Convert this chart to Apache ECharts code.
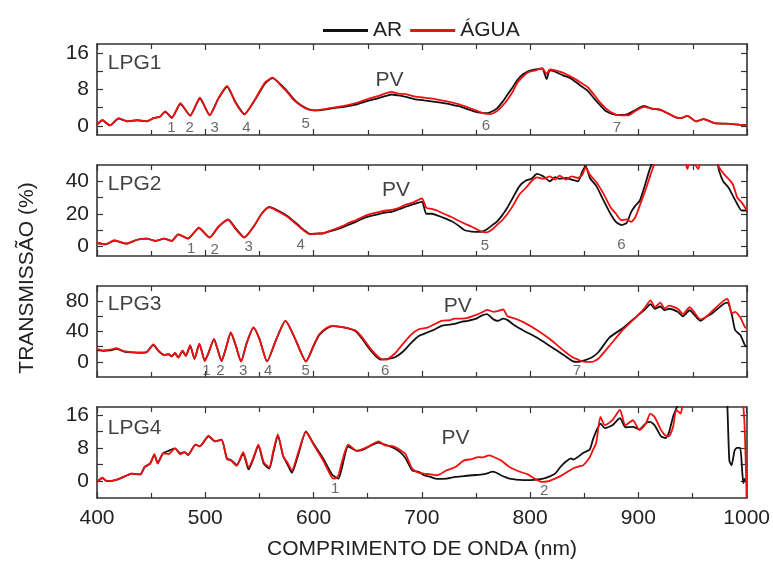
<!DOCTYPE html>
<html>
<head>
<meta charset="utf-8">
<script src="https://cdn.jsdelivr.net/npm/echarts@6/dist/echarts.min.js"></script>
<style>html,body{margin:0;padding:0;background:#fff}#c{width:773px;height:566px}</style>
</head>
<body>
<div id="c"></div>
<script>
// ---------------- DATA ----------------
const seriesNames = ['AR', 'ÁGUA'];
const panelNames = ['LPG1', 'LPG2', 'LPG3', 'LPG4'];
const xTickLabels = [400, 500, 600, 700, 800, 900, 1000];

// LPG1
const nm1 = [400,405,412,420,428,437,446,452,458,463,469,477,486,495,504,512,520,528,536,545,555,562,570,576,582,588,595,601,610,618,628,639,650,660,667,672,678,685,693,702,712,723,730,735,742,748,753,758,763,769,775,779,784,788,793,798,805,811,815,818,823,830,836,840,846,853,859,865,870,876,883,890,897,905,912,920,929,935,939,945,953,960,970,980,987,995,1000];
const lpg1Agua = [0.3,1.3,0.1,1.7,1.0,1.3,1.0,1.7,2.0,3.2,1.7,5.0,2.2,6.2,2.3,6.0,8.8,5.0,2.5,5.5,9.5,10.6,8.8,7.3,5.6,4.5,3.6,3.4,3.7,4.0,4.4,5.0,5.9,6.6,7.2,7.5,7.1,7.0,6.5,6.2,5.9,5.4,5.0,4.7,4.1,3.6,3.1,2.7,2.6,3.2,4.6,5.8,7.6,9.5,10.8,11.8,12.2,12.7,11.4,12.4,12.2,11.7,11.0,10.5,9.6,8.5,6.8,5.0,3.8,2.8,2.3,2.3,3.3,4.2,3.8,3.6,2.5,1.8,1.7,2.2,1.0,1.5,0.6,0.5,0.4,0.2,0.1];
const lpg1Ar = [0.3,1.2,0.1,1.6,1.0,1.2,1.0,1.7,2.0,3.1,1.8,4.8,2.3,6.0,2.4,6.0,8.6,5.2,2.6,5.4,9.3,10.5,9.0,7.5,5.8,4.6,3.7,3.4,3.6,3.9,4.2,4.7,5.5,6.1,6.6,6.9,6.7,6.4,5.9,5.6,5.3,4.9,4.5,4.3,3.7,3.2,2.9,2.8,3.0,3.8,5.5,6.9,8.6,10.1,11.3,12.0,12.4,12.6,10.3,12.2,11.9,11.1,10.6,10.0,8.9,7.7,6.0,4.4,3.2,2.6,2.4,2.6,3.5,4.4,3.8,3.5,2.5,1.8,1.7,2.2,1.0,1.5,0.6,0.5,0.4,0.2,0.1];

// LPG2
const nm2 = [400,408,416,427,437,446,454,462,469,475,484,494,504,512,521,528,536,545,552,559,567,576,585,592,597,603,609,617,626,633,639,645,651,660,667,672,680,685,690,697,700,704,709,714,720,727,733,739,746,752,756,760,765,769,774,779,784,790,796,801,806,812,818,823,827,833,838,844,848,851,855,861,867,874,879,884,889,893,897,901,906,910,913,916,925,940,945,948,955,958,965,972,974,978,983,987,991,995,1000];
const lpg2Agua = [2.0,1.2,3.7,1.6,4.0,4.7,3.3,4.7,3.3,7.3,4.7,11.4,5.3,12.0,16.3,10.5,5.3,12.5,20.0,24.0,21.5,18.0,13.0,9.0,7.3,7.8,8.0,10.0,12.2,14.5,16.0,18.0,19.6,21.0,22.0,22.4,24.0,25.7,26.5,28.6,29.5,23.7,23.0,22.0,20.0,18.0,16.0,14.0,12.0,10.0,8.8,8.5,10.5,13.0,16.0,20.0,25.0,32.0,36.0,40.0,42.4,41.5,43.0,41.0,43.5,41.0,43.0,42.0,44.0,48.6,44.0,39.4,33.0,24.0,20.0,16.0,16.5,15.0,18.0,25.0,34.0,42.0,48.0,53.0,58.0,58.0,47.5,55.0,47.5,55.0,58.0,55.0,49.0,45.0,41.4,38.0,30.0,27.0,22.0];
const lpg2Ar = [2.0,1.2,3.5,1.6,4.0,4.7,3.3,4.7,3.3,7.3,4.7,11.2,5.5,11.8,16.5,11.0,5.5,12.5,20.0,24.2,22.0,18.5,13.5,9.5,7.5,7.8,8.0,9.6,11.5,13.5,15.0,17.0,18.4,19.8,20.8,21.2,23.0,24.3,25.5,26.8,27.5,20.0,20.0,19.0,17.5,15.5,13.0,10.0,9.0,8.8,9.2,10.5,13.0,15.0,19.0,24.0,30.0,37.0,40.4,41.5,44.5,43.0,40.0,42.5,41.5,42.0,41.0,40.0,46.0,49.5,42.0,37.0,29.0,20.0,15.0,13.0,14.5,21.0,25.0,28.0,38.0,47.0,52.0,56.0,60.0,60.0,60.0,60.0,60.0,60.0,60.0,54.0,47.0,40.0,36.0,31.0,26.0,22.0,22.0];

// LPG3
const nm3 = [400,406,412,418,425,433,440,446,452,457,462,466,469,472,475,479,482,486,490,494.5,499.5,503,508,511,515,519,523.5,528,533,538,544.5,550,557,565,574,583,593,600,605,612,618,625,632,639,645,651,657,662,667,675,682,690,697,705,712,718,726,730,737,742,750,755,760,766,770,775,779,786,794,806,818,831,839,843,850,857,863,873,886,899,905,911,915,920,924,928,936,941,947,957,963,968,978,982,986,989,994,998,1000];
const lpg3Agua = [16.7,15,16,18,14,12.5,12,13,23,14,9,10,7,12,5.5,15,8,22,4,24,1,12,30,18,1,18,39,22,0.5,24,45.5,30,0.5,28,54,30,0.5,22,36,45,47.5,46,44,41,32,20,10,4,3,11,23,36,43,45,50,54,55,57,57,58,62,65,68.6,66,67,69,60,57,52,42,30,14.5,6,3.5,0,0,4.4,21,43,61,70,81,72,78,70,74,70,63,72,56,60,67,80,83,64,66,58,46,44];
const lpg3Ar = [15.5,14.5,15,17,13.5,12.5,12,13,22,14,9,10,7.5,11,6,14,8,21,4,23.5,1.5,12,30,18,1,18,38,22,0.5,24,45,30,0.5,28,54,30,0.5,21,35,44,47,46,44,40,30,18,8,3,3.5,6,13,25,34,38.7,43,47.5,49,50,53,54,57,61,63,56,54,57,55,47.5,41,32,21,8.8,1,0,2,6,13,32,45,61,68,76,70,73,68,70,66,60,68,54,60,64,76,78,62,42,35,22,20];

// LPG4
const nm4 = [400,405,409,418,428,432,440,444,449,453,456,461,466,472,477,481,484,491,495,503,509,515,520,524,529,535,540,545,549,554,559,563,567,572,576,580,586,593,600,609,617,620,623,626,632,640,645,651,660,666,674,680,685,691,697,702,708,714,723,731,739,746,752,756,762,765,769,773,781,790,798,804,811,817,823,828,832,838,840,846,849,855,858,861,865,869,876,883,888,895,901,907,911,915,921,925,928,932,935,939,942,950,960,970,980,982,984,986,989,991,994,996,997,998,999,1000];
const lpg4Agua = [-0.2,0.8,0.0,0.3,1.4,1.8,1.6,3.4,4.2,6.5,4.2,6.7,6.5,7.9,6.5,7.0,6.3,8.8,8.4,11.0,9.6,10.0,5.3,4.9,3.7,7.0,3.3,6.0,8.8,4.6,3.3,7.5,11.3,6.0,4.4,2.6,7.0,11.9,8.8,4.9,0.8,0.6,1.4,4.4,8.8,7.3,7.7,8.4,9.6,8.6,8.4,7.5,6.5,3.0,2.0,1.8,1.6,1.4,2.6,3.4,5.0,5.3,5.8,5.7,6.2,6.0,5.5,5.0,3.4,2.3,1.6,0.6,-0.2,0.0,0.6,1.2,1.8,2.8,3.1,3.6,3.8,5.7,7.5,9.2,15.5,13.5,14.7,17.2,13.5,14.7,12.3,13.9,16.3,15.5,12.3,11.0,10.8,13.0,17.2,16.3,20,22,22,22,22,22,22,22,22,22,22,22,18,14,6,-4.1];
const lpg4Ar = [-0.2,0.7,0.0,0.3,1.4,1.8,1.6,3.4,4.2,6.3,4.4,6.7,7.3,7.9,6.7,7.0,6.3,8.8,8.4,10.8,9.6,10.0,5.5,5.0,3.9,6.6,2.8,5.8,8.6,4.2,3.0,7.0,11.0,6.0,4.0,2.0,6.5,12.0,9.0,5.4,1.6,1.0,0.6,3.0,8.4,7.3,7.5,8.3,9.3,8.8,8.0,7.0,5.5,2.6,2.2,1.4,1.0,0.5,0.6,1.0,1.2,1.4,1.5,1.6,2.0,2.3,2.0,1.4,0.6,0.3,0.2,0.3,0.5,1.0,1.8,3.4,4.5,5.5,5.2,6.2,6.8,7.6,10.0,12.0,13.9,12.8,13.5,15.2,13.0,13.1,12.5,14.0,14.3,13.5,10.8,10.4,11.5,15.5,17.5,20,22,22,22,22,22,19,5.0,3.8,7.5,8.0,8.0,2.0,-0.5,0.5,0.0,0.0];

// axis ranges and ticks per panel
const yMin = [-2, -6, -20, -4.1];
const yMax = [18, 50, 100, 17.9];
const yLabels1 = [0, 8, 16], yTicks1 = [0, 4, 8, 12, 16];
const yLabels2 = [0, 20, 40], yTicks2 = [0, 10, 20, 30, 40];
const yLabels3 = [0, 40, 80], yTicks3 = [0, 20, 40, 60, 80];
const yLabels4 = [0, 8, 16], yTicks4 = [0, 4, 8, 12, 16];

// annotations [nm, value, text]
const marks1 = [[468.8,-0.4,'1'],[485.6,-0.4,'2'],[508.7,-0.4,'3'],[538,-0.4,'4'],[592.6,0.4,'5'],[759,0,'6'],[880,-0.4,'7']];
const marks2 = [[486.9,-1.8,'1'],[508.7,-2.2,'2'],[540,-0.6,'3'],[588,0.6,'4'],[758,0,'5'],[884,0.6,'6']];
const marks3 = [[501,-12,'1'],[514,-12,'2'],[535,-12,'3'],[558,-12,'4'],[592.6,-12,'5'],[666,-12,'6'],[843,-12,'7']];
const marks4 = [[620,-1.8,'1'],[813,-2.3,'2']];
const pvLabels = [[670,10.1],[676,34.5],[733,72.7],[731,10.3]];
const lpgLabelAt = [[410,13.8],[410,38],[410,76],[410,12.8]];

// ---------------- CHART ----------------
const FONT = 'Liberation Sans, Arial, sans-serif';
const AX = '#333';
const panels = [
  {nm: nm1, ar: lpg1Ar, agua: lpg1Agua, labels: yLabels1, ticks: yTicks1, marks: marks1},
  {nm: nm2, ar: lpg2Ar, agua: lpg2Agua, labels: yLabels2, ticks: yTicks2, marks: marks2},
  {nm: nm3, ar: lpg3Ar, agua: lpg3Agua, labels: yLabels3, ticks: yTicks3, marks: marks3},
  {nm: nm4, ar: lpg4Ar, agua: lpg4Agua, labels: yLabels4, ticks: yTicks4, marks: marks4}
];
const tops = [44, 165, 286, 407];
const grids = [], xAxes = [], yAxes = [], series = [];

panels.forEach((p, i) => {
  grids.push({left: 97, width: 650, top: tops[i], height: 91, containLabel: false});
  const xBase = {
    gridIndex: i, type: 'value', min: 400, max: 1000, interval: 100,
    splitLine: {show: false},
    axisLine: {show: true, onZero: false, lineStyle: {color: AX, width: 1.6}},
    axisTick: {show: true, inside: true, length: 6, lineStyle: {color: AX, width: 1.2}},
    minorTick: {show: true, splitNumber: 2, length: 5, lineStyle: {color: AX, width: 1.2}},
    minorSplitLine: {show: false}
  };
  xAxes.push(Object.assign({}, xBase, {
    position: 'bottom',
    axisLabel: {show: i === 3, fontFamily: FONT, fontSize: 21, color: '#222', margin: 10,
      customValues: xTickLabels, formatter: v => String(v)}
  }));
  xAxes.push(Object.assign({}, xBase, {position: 'top', axisLabel: {show: false}}));
  const yBase = {
    gridIndex: i, type: 'value', min: yMin[i], max: yMax[i],
    splitLine: {show: false},
    axisLine: {show: true, onZero: false, lineStyle: {color: AX, width: 1.6}},
    axisTick: {show: true, inside: true, length: 6, customValues: p.ticks, lineStyle: {color: AX, width: 1.2}}
  };
  yAxes.push(Object.assign({}, yBase, {
    position: 'left',
    axisLabel: {show: true, customValues: p.labels, fontFamily: FONT, fontSize: 21, color: '#222', margin: 8,
      formatter: v => String(v)}
  }));
  yAxes.push(Object.assign({}, yBase, {position: 'right', axisLabel: {show: false}}));

  const common = {type: 'line', xAxisIndex: 2 * i, yAxisIndex: 2 * i, symbol: 'none', showSymbol: false,
    smooth: 0.2, clip: true, animation: false, z: 3};
  series.push(Object.assign({}, common, {
    name: seriesNames[0], data: p.nm.map((x, k) => [x, p.ar[k]]),
    lineStyle: {color: '#111', width: 1.8}, itemStyle: {color: '#111'}
  }));
  series.push(Object.assign({}, common, {
    name: seriesNames[1], data: p.nm.map((x, k) => [x, p.agua[k]]), z: 4,
    lineStyle: {color: '#f01010', width: 1.8}, itemStyle: {color: '#f01010'}
  }));
  series.push({
    type: 'scatter', name: 'marks' + i, xAxisIndex: 2 * i, yAxisIndex: 2 * i, symbolSize: 0, silent: true, z: 5,
    data: p.marks.map(m => ({value: [m[0], m[1]], label: {formatter: m[2]}})),
    label: {show: true, position: 'inside', fontFamily: FONT, fontSize: 15, color: '#444'}
  });
  series.push({
    type: 'scatter', name: 'pv' + i, xAxisIndex: 2 * i, yAxisIndex: 2 * i, symbolSize: 0, silent: true, z: 5,
    data: [{value: pvLabels[i], label: {formatter: 'PV', position: 'inside'}},
           {value: lpgLabelAt[i], label: {formatter: panelNames[i], position: 'right', distance: 0}}],
    label: {show: true, fontFamily: FONT, fontSize: 21, color: '#111'}
  });
});

const chart = echarts.init(document.getElementById('c'), null, {renderer: 'canvas'});
chart.setOption({
  backgroundColor: '#fff',
  animation: false,
  legend: {
    data: seriesNames.map(n => ({name: n, icon: 'rect'})),
    top: 15, left: 318, itemWidth: 45, itemHeight: 3, itemGap: 8,
    textStyle: {fontFamily: FONT, fontSize: 21, color: '#222'}
  },
  grid: grids,
  xAxis: xAxes,
  yAxis: yAxes,
  series: series,
  graphic: [
    {type: 'text', x: 27, y: 278, rotation: Math.PI / 2,
      style: {text: 'TRANSMISSÃO (%)', font: '21px Liberation Sans', fill: '#222', align: 'center', verticalAlign: 'middle'}},
    {type: 'text', x: 422, y: 549,
      style: {text: 'COMPRIMENTO DE ONDA (nm)', font: '21px Liberation Sans', fill: '#222', align: 'center', verticalAlign: 'middle'}}
  ]
});
</script>
</body>
</html>
